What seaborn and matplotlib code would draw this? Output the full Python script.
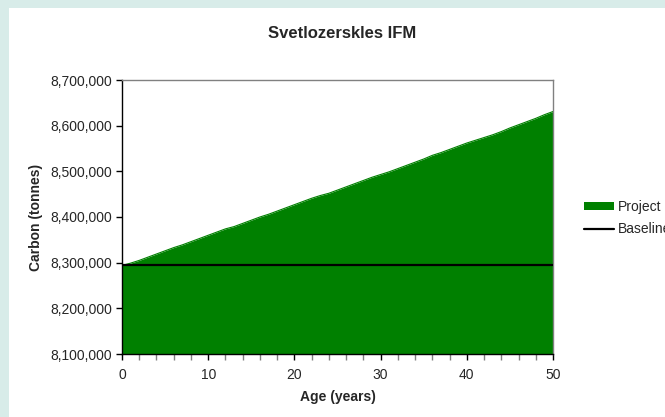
import matplotlib
matplotlib.use("Agg")
import matplotlib.pyplot as plt
import matplotlib.patches as mpatches
from matplotlib.lines import Line2D
from matplotlib.ticker import FuncFormatter, MultipleLocator
import seaborn as sns

# Data
years = list(range(51))
project = [
    8294000, 8299000, 8305000, 8312000, 8319000, 8326000, 8333000, 8339000,
    8346000, 8353000, 8360000, 8367000, 8374000, 8379000, 8386000, 8393000,
    8400000, 8406000, 8413000, 8420000, 8427000, 8434000, 8441000, 8447000,
    8452000, 8459000, 8466000, 8473000, 8480000, 8487000, 8493000, 8499000,
    8506000, 8513000, 8520000, 8527000, 8535000, 8541000, 8548000, 8555000,
    8562000, 8568000, 8574000, 8580000, 8587000, 8595000, 8602000, 8609000,
    8616000, 8624000, 8631000,
]
baseline_value = 8294000
baseline = [baseline_value] * len(years)

sns.set_style("white")
plt.rcParams["font.family"] = ["Liberation Sans", "DejaVu Sans"]

fig = plt.figure(figsize=(6.65, 4.17), dpi=100)
fig.patch.set_facecolor("#d8ece9")
# white chart area inside the patterned slide border
fig.patches.append(mpatches.Rectangle((9 / 665, 0), 1, 1 - 8 / 417,
                                      transform=fig.transFigure,
                                      facecolor="white", edgecolor="none",
                                      zorder=-5))

ax = fig.add_axes([122 / 665, 1 - 354 / 417, 431 / 665, 274 / 417])
ax.set_zorder(2)
ax.set_facecolor("white")

green = "#008000"
ax.fill_between(years, 8100000, project, color=green, linewidth=0, zorder=1)
sns.lineplot(x=years, y=project, ax=ax, color=green, linewidth=0.8, zorder=2)
sns.lineplot(x=years, y=baseline, ax=ax, color="black", linewidth=1.6, zorder=3)

ax.set_xlim(0, 50)
ax.set_ylim(8100000, 8700000)
ax.xaxis.set_major_locator(MultipleLocator(10))
ax.xaxis.set_minor_locator(MultipleLocator(2))
ax.yaxis.set_major_locator(MultipleLocator(100000))
ax.yaxis.set_major_formatter(FuncFormatter(lambda v, p: f"{int(v):,}"))

ax.tick_params(axis="both", which="major", direction="out", length=4,
               width=1, color="black", labelsize=10, pad=3, bottom=True, left=True)
ax.tick_params(axis="x", which="minor", direction="out", length=4,
               width=1, color="#808080", bottom=True)
ax.tick_params(axis="x", pad=6)

for side in ["left", "bottom"]:
    ax.spines[side].set_color("black")
    ax.spines[side].set_linewidth(1)
for side in ["top", "right"]:
    ax.spines[side].set_visible(True)
    ax.spines[side].set_color("#808080")
    ax.spines[side].set_linewidth(1)

ax.set_xlabel("Age (years)", fontsize=10, fontweight="bold", labelpad=6)
ax.set_ylabel("Carbon (tonnes)", fontsize=10, fontweight="bold", labelpad=5)
fig.text(342 / 665, 1 - 34 / 417, "Svetlozerskles IFM", ha="center", va="center",
         fontsize=12, fontweight="bold")

handles = [mpatches.Patch(facecolor=green, edgecolor="none"),
           Line2D([0], [0], color="black", linewidth=1.6)]
fig.legend(handles, ["Project", "Baseline"], loc="center left",
           bbox_to_anchor=(578 / 665, 1 - 218 / 417), frameon=False,
           fontsize=10, handlelength=2.2, handleheight=0.6,
           handletextpad=0.3, labelspacing=0.6, borderaxespad=0)

fig.savefig("out.png", dpi=100)
